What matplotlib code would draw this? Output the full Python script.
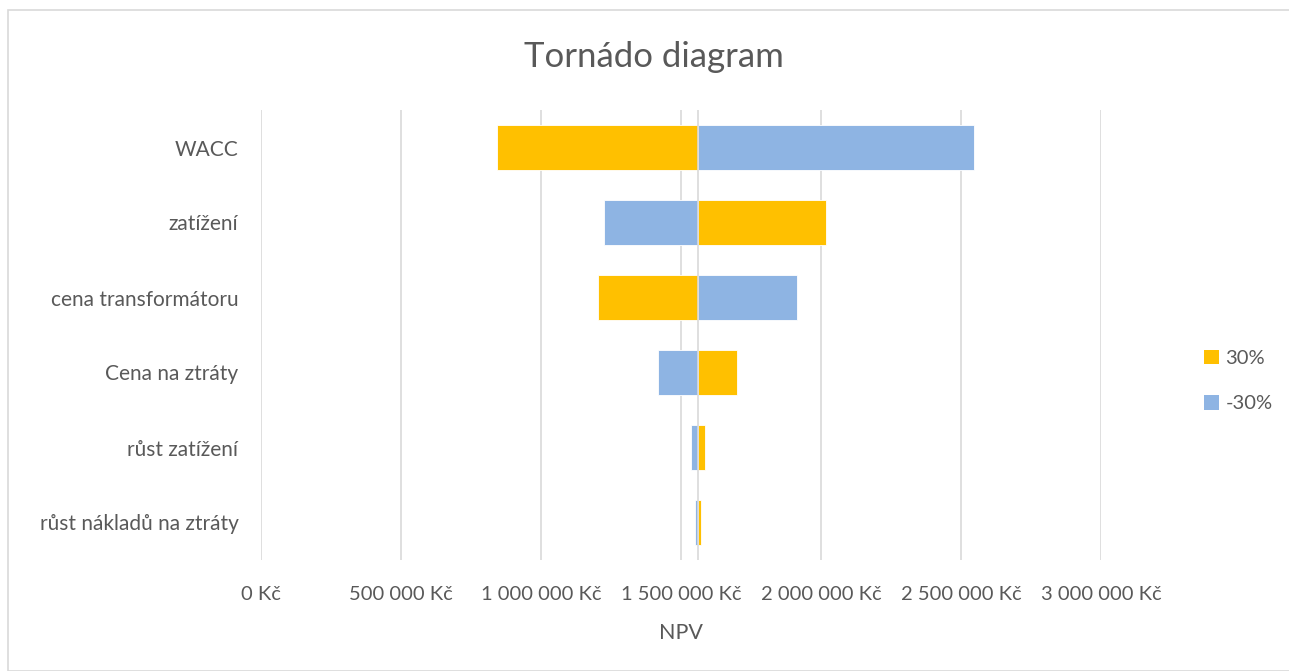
import matplotlib
matplotlib.use("Agg")
import matplotlib.pyplot as plt
from matplotlib.patches import Rectangle, Patch
from matplotlib.ticker import FuncFormatter, MultipleLocator

# NPV sensitivity: each factor changed by +30 % and -30 %
factors = ["WACC", "zatížení", "cena transformátoru", "Cena na ztráty",
           "růst zatížení", "růst nákladů na ztráty"]
npv_plus30 = [844000, 2018000, 1205000, 1702000, 1588000, 1572000]
npv_minus30 = [2545000, 1224000, 1916000, 1420000, 1537000, 1551000]
base_npv = 1560000

series_labels = ["30%", "-30%"]
orange = "#FFC000"
blue = "#8EB4E3"
grey_text = "#595959"
grid_grey = "#D9D9D9"

plt.rcParams["font.family"] = ["Lato", "DejaVu Sans"]

W, H = 1289, 671
fig = plt.figure(figsize=(W / 100, H / 100), dpi=100)

# light frame around the chart area
fig.patches.append(Rectangle((8 / W, 0), 1.2, 1 - 10 / H, transform=fig.transFigure,
                             fill=False, edgecolor=grid_grey, linewidth=1.2))

ax = fig.add_axes([260.7 / W, 1 - 560 / H, (1101 - 260.7) / W, 450 / H])

y = list(range(len(factors)))
w_plus = [v - base_npv for v in npv_plus30]
w_minus = [v - base_npv for v in npv_minus30]
ax.barh(y, w_plus, left=base_npv, height=0.6, color=orange,
        edgecolor="white", linewidth=0.6, zorder=3)
ax.barh(y, w_minus, left=base_npv, height=0.6, color=blue,
        edgecolor="white", linewidth=0.6, zorder=3)

ax.set_xlim(0, 3000000)
ax.set_ylim(len(factors) - 0.5, -0.5)
ax.xaxis.set_major_locator(MultipleLocator(500000))
ax.xaxis.set_major_formatter(FuncFormatter(lambda v, p: f"{int(v):,} Kč".replace(",", " ")))
ax.set_yticks(y)
ax.set_yticklabels(factors)

ax.grid(axis="x", color=grid_grey, linewidth=1.2, zorder=0)
ax.axvline(base_npv, color=grid_grey, linewidth=1.2, zorder=4)
for s in ax.spines.values():
    s.set_visible(False)
ax.tick_params(axis="both", length=0, colors=grey_text, labelsize=14.5)
ax.tick_params(axis="x", pad=19)
ax.tick_params(axis="y", pad=16)
ax.tick_params(axis="y", labelsize=15)

ax.set_xlabel("NPV", fontsize=15.5, color=grey_text, labelpad=14)

fig.text(654 / W, 1 - 57 / H, "Tornádo diagram", ha="center", va="center",
         fontsize=25, color=grey_text)

handles = [Patch(facecolor=orange, label=series_labels[0]),
           Patch(facecolor=blue, label=series_labels[1])]
fig.legend(handles=handles, loc="center left", bbox_to_anchor=(1186 / W, 1 - 381 / H),
           frameon=False, fontsize=14.5, handlelength=0.75, handleheight=0.75,
           handletextpad=0.3, labelspacing=1.4, labelcolor=grey_text)

fig.savefig("out.png", dpi=100)
